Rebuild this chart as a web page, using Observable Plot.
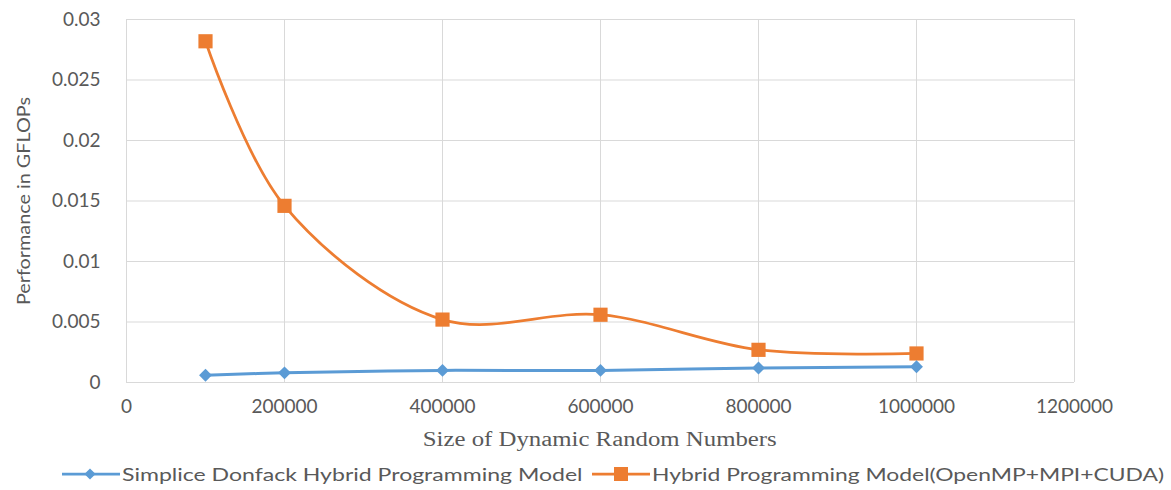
<!DOCTYPE html>
<html>
<head>
<meta charset="utf-8">
<script src="https://cdn.jsdelivr.net/npm/d3@7"></script>
<script src="https://cdn.jsdelivr.net/npm/@observablehq/plot@0.6"></script>
<style>
  html, body { margin: 0; padding: 0; background: #fff; }
  #wrap { position: relative; width: 1171px; height: 490px; overflow: hidden; }
  .xtitle {
    position: absolute; left: 126px; width: 948px; top: 424px; height: 30px;
    text-align: center; font-family: "Liberation Serif", "Times New Roman", serif;
    font-size: 20px; color: #595959; line-height: 30px;
  }
  .xtitle span { display: inline-block; transform: scaleX(1.24); }
  .legend { position: absolute; top: 461px; height: 26px; left: 0; width: 1171px; }
  .item { position: absolute; top: 0; height: 26px; display: flex; align-items: center; }
  .item svg { display: block; }
  .item span {
    font-family: Lato, "Liberation Sans", sans-serif; font-size: 18px; color: #595959;
    display: inline-block; transform-origin: left center; white-space: nowrap;
  }
</style>
</head>
<body>
<div id="wrap"></div>
<script>
// Problem sizes (number of dynamically generated random numbers)
const sizes = [100000, 200000, 400000, 600000, 800000, 1000000];
// Performance in GFLOPs for each model
const donfack = [0.0006, 0.0008, 0.001, 0.001, 0.0012, 0.0013];
const hybrid = [0.0282, 0.0146, 0.0052, 0.0056, 0.0027, 0.0024];
// Axis ticks
const xTicks = [0, 200000, 400000, 600000, 800000, 1000000, 1200000];
const yTicks = [0, 0.005, 0.01, 0.015, 0.02, 0.025, 0.03];
// Series names and colours
const seriesNames = ["Simplice Donfack Hybrid Programming Model", "Hybrid Programming Model(OpenMP+MPI+CUDA)"];
const seriesColors = ["#5B9BD5", "#ED7D31"];

const rows = [
  ...sizes.map((s, i) => ({size: s, value: donfack[i], series: seriesNames[0]})),
  ...sizes.map((s, i) => ({size: s, value: hybrid[i], series: seriesNames[1]}))
];
const blue = rows.filter(d => d.series === seriesNames[0]);
const orange = rows.filter(d => d.series === seriesNames[1]);

const fmtY = d => String(+d.toFixed(3));

const chart = Plot.plot({
  width: 1171,
  height: 422,
  marginLeft: 126,
  marginRight: 97,
  marginTop: 19,
  marginBottom: 40,
  style: {fontFamily: "Lato, 'Liberation Sans', sans-serif", fontSize: "19px", color: "#595959", background: "white"},
  x: {domain: [0, 1200000]},
  y: {domain: [0, 0.03]},
  marks: [
    Plot.gridX(xTicks, {stroke: "#d9d9d9", strokeOpacity: 1, strokeWidth: 1}),
    Plot.gridY(yTicks, {stroke: "#d9d9d9", strokeOpacity: 1, strokeWidth: 1}),
    Plot.axisX({ticks: xTicks, tickSize: 0, tickPadding: 17, tickFormat: d => String(d), label: null, letterSpacing: "1px"}),
    Plot.axisY({ticks: yTicks, tickSize: 0, tickPadding: 26, tickFormat: fmtY, label: null}),
    Plot.line(orange, {x: "size", y: "value", stroke: seriesColors[1], strokeWidth: 2.75, curve: "catmull-rom"}),
    Plot.line(blue, {x: "size", y: "value", stroke: seriesColors[0], strokeWidth: 3, curve: "catmull-rom"}),
    Plot.dot(orange, {x: "size", y: "value", symbol: "square", r: 8, fill: seriesColors[1], stroke: null}),
    Plot.dot(blue, {x: "size", y: "value", symbol: "diamond2", r: 5.8, fill: seriesColors[0], stroke: null})
  ]
});

// Rotated y-axis title drawn inside the chart SVG
d3.select(chart).append("text")
  .attr("transform", "translate(30,201) rotate(-90)")
  .attr("text-anchor", "middle")
  .attr("font-size", 18)
  .attr("fill", "#595959")
  .attr("textLength", 208)
  .attr("lengthAdjust", "spacingAndGlyphs")
  .text("Performance in GFLOPs");

const wrap = document.getElementById("wrap");
wrap.appendChild(chart);

const xt = document.createElement("div");
xt.className = "xtitle";
xt.innerHTML = "<span>Size of Dynamic Random Numbers</span>";
wrap.appendChild(xt);

// Legend: line swatch with marker, then the series name
const legend = document.createElement("div");
legend.className = "legend";
const legendPos = [{left: 62, scale: 1.28}, {left: 592, scale: 1.27}];
seriesNames.forEach((name, i) => {
  const item = document.createElement("div");
  item.className = "item";
  item.style.left = legendPos[i].left + "px";
  const sw = d3.create("svg").attr("width", 60).attr("height", 26);
  sw.append("line").attr("x1", 0).attr("x2", 58).attr("y1", 13).attr("y2", 13)
    .attr("stroke", seriesColors[i]).attr("stroke-width", 2.75);
  if (i === 0) {
    sw.append("path").attr("d", d3.symbol(d3.symbolDiamond2, 80)()).attr("transform", "translate(28,13)").attr("fill", seriesColors[i]);
  } else {
    sw.append("rect").attr("x", 22).attr("y", 6).attr("width", 14).attr("height", 14).attr("fill", seriesColors[i]);
  }
  item.appendChild(sw.node());
  const label = document.createElement("span");
  label.textContent = name;
  label.style.transform = `scaleX(${legendPos[i].scale})`;
  item.appendChild(label);
  legend.appendChild(item);
});
wrap.appendChild(legend);
</script>
</body>
</html>
